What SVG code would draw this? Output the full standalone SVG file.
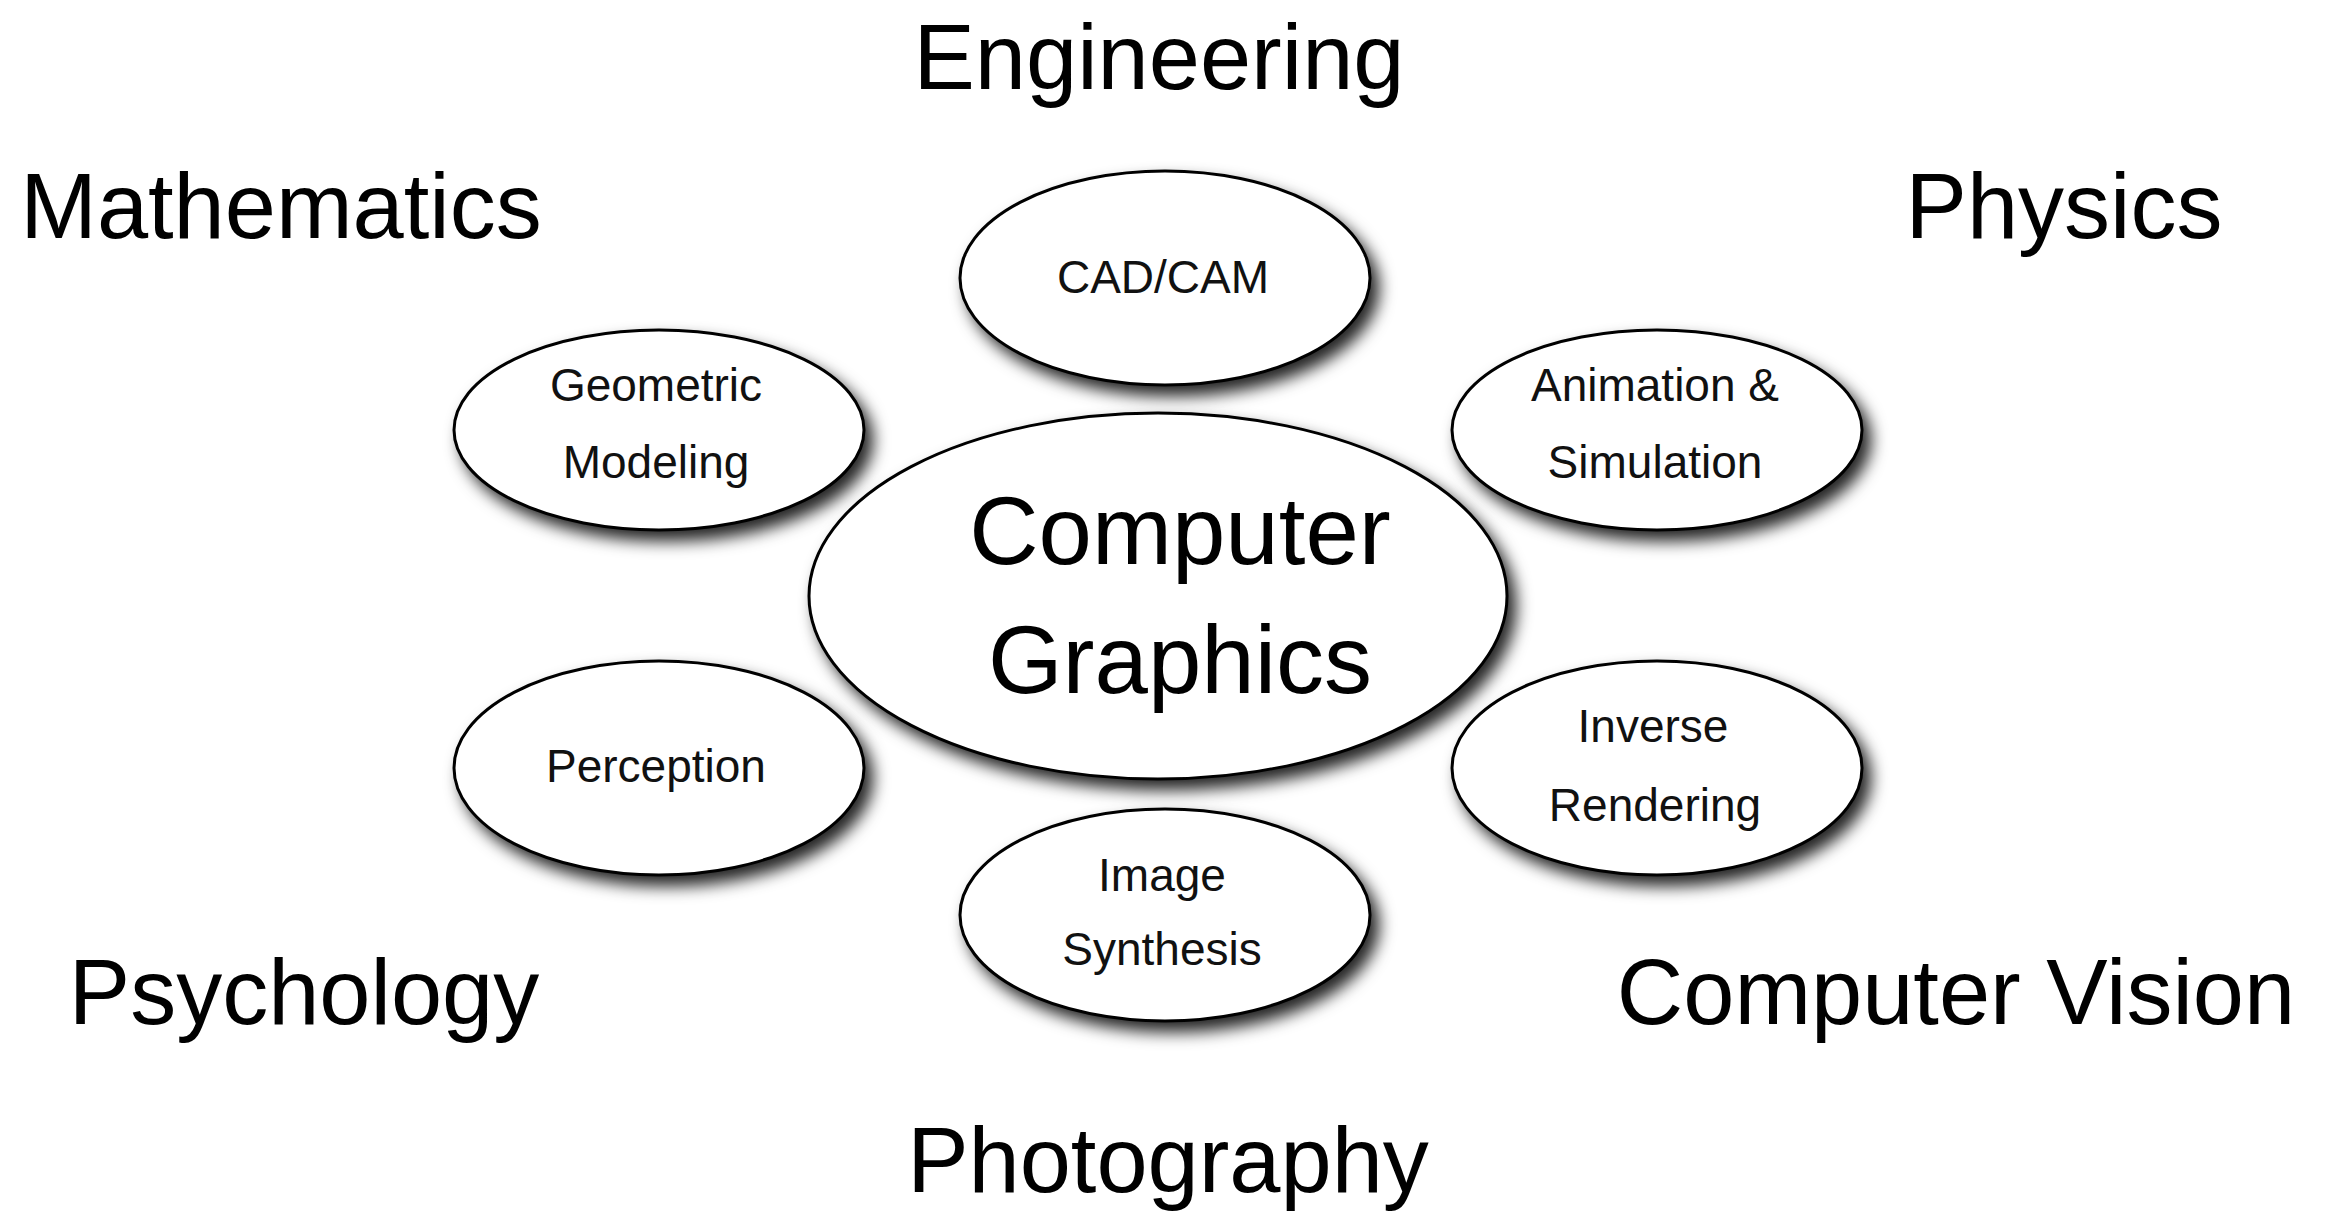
<svg xmlns="http://www.w3.org/2000/svg" width="2328" height="1218" viewBox="0 0 2328 1218">
<style>
.field{font-family:"Liberation Sans",Arial,sans-serif;font-size:92px;fill:#000;text-anchor:middle}
.lbl{font-family:"Liberation Sans",Arial,sans-serif;font-size:46px;fill:#111;text-anchor:middle}
.big{font-family:"Liberation Sans",Arial,sans-serif;font-size:96px;fill:#000;text-anchor:middle}
.node ellipse{fill:#fff;stroke:#000;stroke-width:3;filter:url(#sh)}
</style>
<defs>
<filter id="sh" x="-20%" y="-20%" width="150%" height="160%">
<feDropShadow dx="8" dy="10" stdDeviation="8" flood-color="#000" flood-opacity="0.85"/>
</filter>
</defs>
<rect width="2328" height="1218" fill="#fff"/>
<g id="fields">
<text class="field" x="281" y="238">Mathematics</text>
<text class="field" x="1159" y="89">Engineering</text>
<text class="field" x="2064" y="238">Physics</text>
<text class="field" x="304" y="1024">Psychology</text>
<text class="field" x="1956" y="1024">Computer Vision</text>
<text class="field" x="1168" y="1192">Photography</text>
</g>
<g id="connectors"></g>
<g id="cadcam" class="node">
<ellipse cx="1165" cy="278" rx="205" ry="107"/>
<text class="lbl" x="1163" y="293">CAD/CAM</text>
</g>
<g id="geometric" class="node">
<ellipse cx="659" cy="430" rx="205" ry="100"/>
<text class="lbl" x="656" y="401">Geometric</text>
<text class="lbl" x="656" y="478">Modeling</text>
</g>
<g id="animation" class="node">
<ellipse cx="1657" cy="430" rx="205" ry="100"/>
<text class="lbl" x="1655" y="401">Animation &amp;</text>
<text class="lbl" x="1655" y="478">Simulation</text>
</g>
<g id="perception" class="node">
<ellipse cx="659" cy="768" rx="205" ry="107"/>
<text class="lbl" x="656" y="782">Perception</text>
</g>
<g id="inverse" class="node">
<ellipse cx="1657" cy="768" rx="205" ry="107"/>
<text class="lbl" x="1653" y="742">Inverse</text>
<text class="lbl" x="1655" y="821">Rendering</text>
</g>
<g id="synthesis" class="node">
<ellipse cx="1165" cy="915" rx="205" ry="106"/>
<text class="lbl" x="1162" y="891">Image</text>
<text class="lbl" x="1162" y="965">Synthesis</text>
</g>
<g id="cg" class="node">
<ellipse cx="1158" cy="596" rx="349" ry="183"/>
<text class="big" x="1180" y="564">Computer</text>
<text class="big" x="1180" y="693">Graphics</text>
</g>
</svg>
